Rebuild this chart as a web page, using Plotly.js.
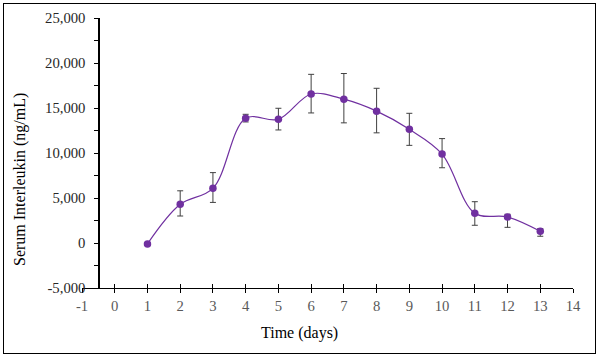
<!DOCTYPE html>
<html><head><meta charset="utf-8">
<script src="https://cdn.plot.ly/plotly-3.0.1.min.js"></script>
<style>
body{margin:0;background:#fff;}
#wrap{position:relative;width:601px;height:359px;}
#chart{width:601px;height:359px;}
#frame{position:absolute;left:3px;top:3px;width:591px;height:349px;border:1px solid #000;pointer-events:none;}
</style>
</head><body>
<div id="wrap"><div id="chart"></div><div id="frame"></div></div>
<script>
const days = [1, 2, 3, 4, 5, 6, 7, 8, 9, 10, 11, 12, 13];
const interleukin = [-100, 4300, 6070, 13850, 13750, 16560, 15980, 14650, 12630, 9880, 3300, 2890, 1300];
const errorPlus = [0, 1500, 1750, 450, 1220, 2180, 2850, 2540, 1780, 1720, 1290, 300, 300];
const errorMinus = [0, 1300, 1560, 400, 1190, 2110, 2630, 2410, 1780, 1520, 1330, 1150, 550];
const xTickVals = [-1, 0, 1, 2, 3, 4, 5, 6, 7, 8, 9, 10, 11, 12, 13, 14];
const xTickText = ['-1', '0', '1', '2', '3', '4', '5', '6', '7', '8', '9', '10', '11', '12', '13', '14'];
const yTickVals = [-5000, 0, 5000, 10000, 15000, 20000, 25000];
const yTickText = ['-5,000', '0', '5,000', '10,000', '15,000', '20,000', '25,000'];

const FONT = 'Liberation Serif, Times New Roman, serif';

const traces = [
  {
    x: days, y: interleukin, type: 'scatter', mode: 'lines+markers',
    line: {shape: 'spline', smoothing: 1, color: '#7030A0', width: 1.2},
    marker: {size: 7.5, color: '#7030A0'},
    error_y: {type: 'data', symmetric: false, array: errorPlus, arrayminus: errorMinus, visible: true,
              color: '#404040', thickness: 1, width: 3},
    hoverinfo: 'x+y'
  },
  {x: [null], y: [null], xaxis: 'x2', yaxis: 'y', type: 'scatter', mode: 'markers', showlegend: false, hoverinfo: 'skip'}
];

const layout = {
  width: 601, height: 359,
  margin: {l: 82, r: 28, t: 18, b: 71},
  paper_bgcolor: '#fff', plot_bgcolor: '#fff',
  showlegend: false,
  font: {family: FONT, size: 14.7, color: '#000'},
  xaxis: {
    range: [-1, 14], tickmode: 'array', tickvals: xTickVals, ticktext: xTickText,
    showgrid: false, zeroline: false, showline: true, linecolor: '#000', linewidth: 1.2,
    ticks: 'outside', ticklen: 4, tickcolor: '#000', tickwidth: 1,
    tickfont: {family: FONT, size: 14.7, color: '#595959'},
    anchor: 'y'
  },
  xaxis2: {
    overlaying: 'x', matches: 'x', range: [-1, 14], tickmode: 'array', tickvals: xTickVals,
    showgrid: false, zeroline: false, showline: false, showticklabels: false,
    ticks: 'inside', ticklen: 4, tickcolor: '#000', tickwidth: 1, anchor: 'y', side: 'bottom'
  },
  yaxis: {
    range: [-5000, 25000], tickmode: 'array', tickvals: yTickVals, ticktext: yTickText,
    anchor: 'free', position: 0.5 / 15,
    showgrid: false, zeroline: false, showline: true, linecolor: '#000', linewidth: 1.2,
    ticks: 'outside', ticklen: 4, tickcolor: '#000', tickwidth: 1,
    ticklabelstandoff: 6,
    minor: {dtick: 2500, tick0: 0, ticks: 'outside', ticklen: 4, tickcolor: '#000', tickwidth: 1, showgrid: false},
    tickfont: {family: FONT, size: 14.7, color: '#262626'}
  },
  annotations: [
    {text: 'Time (days)', xref: 'paper', yref: 'paper', x: (299 - 82) / 491, y: -45 / 270,
     xanchor: 'center', yanchor: 'middle', showarrow: false, font: {family: FONT, size: 16, color: '#000'}},
    {text: 'Serum Interleukin (ng/mL)', xref: 'paper', yref: 'paper', x: (20 - 82) / 491, y: (288 - 180) / 270,
     xanchor: 'center', yanchor: 'middle', textangle: -90, showarrow: false, font: {family: FONT, size: 16, color: '#000'}}
  ]
};

Plotly.newPlot('chart', traces, layout, {displayModeBar: false, staticPlot: true});
</script>
</body></html>
